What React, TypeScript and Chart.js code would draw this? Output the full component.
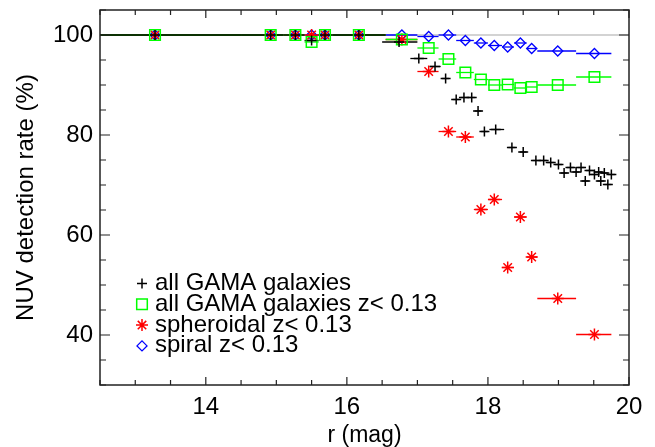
import React, { useEffect, useRef } from 'react';
import { Chart, registerables } from 'chart.js';
import { drawPoint } from 'chart.js/helpers';

Chart.register(...registerables);

// ---- data ----
const seriesLabels = [
  'all GAMA galaxies',
  'all GAMA galaxies z< 0.13',
  'spheroidal z< 0.13',
  'spiral z< 0.13',
];

// all GAMA galaxies (black)
const allR = [13.28, 14.92, 15.27, 15.5, 15.69, 16.17, 16.74, 17.02, 17.25, 17.4, 17.55, 17.66, 17.77, 17.86, 17.95, 18.11, 18.34, 18.5, 18.68, 18.79, 18.89, 19.0, 19.08, 19.17, 19.25, 19.32, 19.38, 19.44, 19.51, 19.57, 19.6, 19.65, 19.7, 19.75];
const allRate = [100, 100, 100, 98.9, 100, 100, 98.6, 95.3, 93.7, 91.3, 87.1, 87.5, 87.5, 84.8, 80.7, 81.1, 77.5, 76.6, 74.9, 74.9, 74.5, 74.1, 72.4, 73.5, 72.6, 73.5, 70.8, 72.9, 72.1, 72.6, 70.8, 72.4, 70.1, 72.1];
const allRMin = [12.5, 14.5, 15.1, 15.4, 15.6, 15.8, 16.5, 16.9, 17.17, 17.35, 17.5, 17.61, 17.72, 17.81, 17.9, 18.02, 18.29, 18.45, 18.63, 18.74, 18.84, 18.95, 19.03, 19.12, 19.2, 19.27, 19.33, 19.39, 19.46, 19.52, 19.55, 19.6, 19.65, 19.7];
const allRMax = [14.5, 15.1, 15.4, 15.6, 15.8, 16.55, 17.0, 17.14, 17.33, 17.45, 17.6, 17.71, 17.82, 17.91, 18.0, 18.23, 18.39, 18.55, 18.73, 18.84, 18.94, 19.05, 19.13, 19.22, 19.3, 19.37, 19.43, 19.49, 19.56, 19.62, 19.65, 19.7, 19.75, 19.8];

// z < 0.13 sub-samples share the same magnitude bins
const zR = [13.28, 14.92, 15.27, 15.5, 15.69, 16.17, 16.78, 17.16, 17.44, 17.68, 17.9, 18.09, 18.28, 18.46, 18.62, 18.99, 19.51];
const zRMin = [12.5, 14.5, 15.1, 15.4, 15.6, 15.8, 16.55, 17.0, 17.3, 17.55, 17.8, 18.0, 18.2, 18.37, 18.55, 18.7, 19.25];
const zRMax = [14.5, 15.1, 15.4, 15.6, 15.8, 16.55, 17.0, 17.3, 17.55, 17.8, 18.0, 18.2, 18.37, 18.55, 18.7, 19.25, 19.75];
const allZRate = [100, 100, 100, 98.6, 100, 100, 99.1, 97.4, 95.2, 92.5, 91.1, 90.0, 90.1, 89.4, 89.6, 90.0, 91.6];
const spheroidalRate = [100, 100, 100, 100, 100, 100, 99.1, 92.7, 80.7, 79.6, 65.1, 67.1, 53.5, 63.6, 55.6, 47.3, 40.1];
const spiralRate = [100, 100, 100, 100, 100, 100, 100, 99.7, 100, 98.9, 98.4, 97.9, 97.6, 98.4, 97.3, 96.8, 96.3];

const referenceRate = 100;
const xMin = 12.5, xMax = 20;
const yMin = 30, yMax = 105;
const xTickStep = 0.5, xLabelEvery = 2;
const yTickStep = 5, yLabelEvery = 20, yFirstLabel = 40;

const FONT = "'Liberation Sans', Arial, Helvetica, sans-serif";

function build(r: number[], v: number[], lo: number[], hi: number[]) {
  return r.map((x, i) => ({ x, y: v[i], xMin: lo[i], xMax: hi[i] }));
}

const errorBarPlugin = {
  id: 'errorBars',
  beforeDatasetsDraw(chart: any) {
    const { ctx, chartArea, scales } = chart;
    const xs = scales.x, ys = scales.y;
    ctx.save();
    ctx.beginPath();
    ctx.rect(chartArea.left, chartArea.top, chartArea.right - chartArea.left, chartArea.bottom - chartArea.top);
    ctx.clip();
    // reference line
    const yr = ys.getPixelForValue(referenceRate);
    ctx.strokeStyle = '#c4c4c4';
    ctx.lineWidth = 1.5;
    ctx.beginPath();
    ctx.moveTo(xs.getPixelForValue(xMin), yr);
    ctx.lineTo(xs.getPixelForValue(xMax), yr);
    ctx.stroke();
    const dss = chart.data.datasets;
    for (let d = dss.length - 1; d >= 0; d--) {
      const ds = dss[d];
      ctx.strokeStyle = ds.errorColor;
      ctx.lineWidth = 1.3;
      ds.data.forEach((p: any) => {
        const py = ys.getPixelForValue(p.y);
        ctx.beginPath();
        ctx.moveTo(xs.getPixelForValue(p.xMin), py);
        ctx.lineTo(xs.getPixelForValue(p.xMax), py);
        ctx.stroke();
      });
    }
    ctx.restore();
  },
};

const framePlugin = {
  id: 'frame',
  afterDatasetsDraw(chart: any) {
    const { ctx, chartArea, scales } = chart;
    const { left, right, top, bottom } = chartArea;
    ctx.save();
    ctx.strokeStyle = '#222';
    ctx.lineWidth = 1.5;
    ctx.strokeRect(left, top, right - left, bottom - top);
    ctx.lineWidth = 1.2;
    ctx.beginPath();
    scales.x.ticks.forEach((t: any) => {
      const px = scales.x.getPixelForValue(t.value);
      const major = Math.abs(t.value % xLabelEvery) < 1e-9;
      const len = major ? 8 : 5;
      ctx.moveTo(px, bottom); ctx.lineTo(px, bottom - len);
      ctx.moveTo(px, top); ctx.lineTo(px, top + len);
    });
    scales.y.ticks.forEach((t: any) => {
      const py = scales.y.getPixelForValue(t.value);
      const major = Math.abs(t.value % yLabelEvery) < 1e-9;
      const len = major ? 10 : 6;
      ctx.moveTo(left, py); ctx.lineTo(left + len, py);
      ctx.moveTo(right, py); ctx.lineTo(right - len, py);
    });
    ctx.stroke();
    ctx.restore();
  },
};

const legendPlugin = {
  id: 'insideLegend',
  afterDraw(chart: any) {
    const { ctx, chartArea } = chart;
    ctx.save();
    ctx.font = `24px ${FONT}`;
    ctx.fillStyle = '#000';
    ctx.textBaseline = 'alphabetic';
    ctx.textAlign = 'left';
    chart.data.datasets.forEach((ds: any, i: number) => {
      const base = chartArea.top + 280 + i * 20.8;
      ctx.strokeStyle = ds.pointBorderColor;
      ctx.fillStyle = 'transparent';
      ctx.lineWidth = ds.pointBorderWidth;
      drawPoint(ctx, { pointStyle: ds.pointStyle, radius: ds.pointRadius, rotation: 0, borderWidth: ds.pointBorderWidth }, chartArea.left + 42, base - 6.5);
      ctx.fillStyle = '#000';
      ctx.fillText(ds.label, chartArea.left + 55, base);
    });
    ctx.restore();
  },
};

export default function App() {
  const ref = useRef<HTMLCanvasElement | null>(null);
  useEffect(() => {
    if (!ref.current) return;
    const chart = new Chart(ref.current, {
      type: 'scatter',
      data: {
        datasets: [
          {
            label: seriesLabels[0],
            data: build(allR, allRate, allRMin, allRMax),
            pointStyle: 'cross', pointRadius: 5, pointBorderWidth: 1.5,
            pointBorderColor: '#000000', pointBackgroundColor: 'transparent',
            errorColor: '#000000',
          } as any,
          {
            label: seriesLabels[1],
            data: build(zR, allZRate, zRMin, zRMax),
            pointStyle: 'rect', pointRadius: 7.5, pointBorderWidth: 1.5,
            pointBorderColor: '#00ff00', pointBackgroundColor: 'transparent',
            errorColor: '#00ff00',
          } as any,
          {
            label: seriesLabels[2],
            data: build(zR, spheroidalRate, zRMin, zRMax),
            pointStyle: 'star', pointRadius: 6, pointBorderWidth: 1.5,
            pointBorderColor: '#ff0000', pointBackgroundColor: 'transparent',
            errorColor: '#ff0000',
          } as any,
          {
            label: seriesLabels[3],
            data: build(zR, spiralRate, zRMin, zRMax),
            pointStyle: 'rectRot', pointRadius: 5, pointBorderWidth: 1.3,
            pointBorderColor: '#0000ff', pointBackgroundColor: 'transparent',
            errorColor: '#0000ff',
          } as any,
        ],
      },
      options: {
        animation: false,
        responsive: false,
        devicePixelRatio: 1,
        layout: { padding: { left: 0, top: 10, right: 26, bottom: 0 } },
        plugins: { legend: { display: false }, tooltip: { enabled: false } },
        elements: { point: { hoverRadius: 5 } },
        scales: {
          x: {
            type: 'linear', position: 'bottom', min: xMin, max: xMax,
            grid: { display: false, drawTicks: false }, border: { display: false },
            ticks: {
              stepSize: xTickStep, autoSkip: false, maxRotation: 0, padding: 8,
              color: '#000', font: { family: FONT, size: 24 },
              callback: (v: any) => (Math.abs(v % xLabelEvery) < 1e-9 ? String(v) : ''),
            },
            title: { display: true, text: 'r (mag)', color: '#000', font: { family: FONT, size: 23, lineHeight: 1 }, padding: { top: 0, bottom: 0 } },
            afterFit: (s: any) => { s.height = 62; s.paddingLeft = 0; s.paddingRight = 0; },
          },
          y: {
            type: 'linear', position: 'left', min: yMin, max: yMax,
            grid: { display: false, drawTicks: false }, border: { display: false },
            ticks: {
              stepSize: yTickStep, autoSkip: false, padding: 7,
              color: '#000', font: { family: FONT, size: 24 },
              callback: (v: any) => (v >= yFirstLabel && Math.abs(v % yLabelEvery) < 1e-9 ? String(v) : ''),
            },
            title: { display: true, text: 'NUV detection rate (%)', color: '#000', font: { family: FONT, size: 24 }, padding: { top: 12, bottom: 0 } },
            afterFit: (s: any) => { s.width = 100; s.paddingTop = 0; s.paddingBottom = 0; },
          },
        },
      } as any,
      plugins: [errorBarPlugin, framePlugin, legendPlugin],
    });
    return () => chart.destroy();
  }, []);
  return (
    <div style={{ position: 'fixed', left: 0, top: 0, width: 655, height: 447, background: '#fff' }}>
      <canvas ref={ref} width={655} height={447} />
    </div>
  );
}
